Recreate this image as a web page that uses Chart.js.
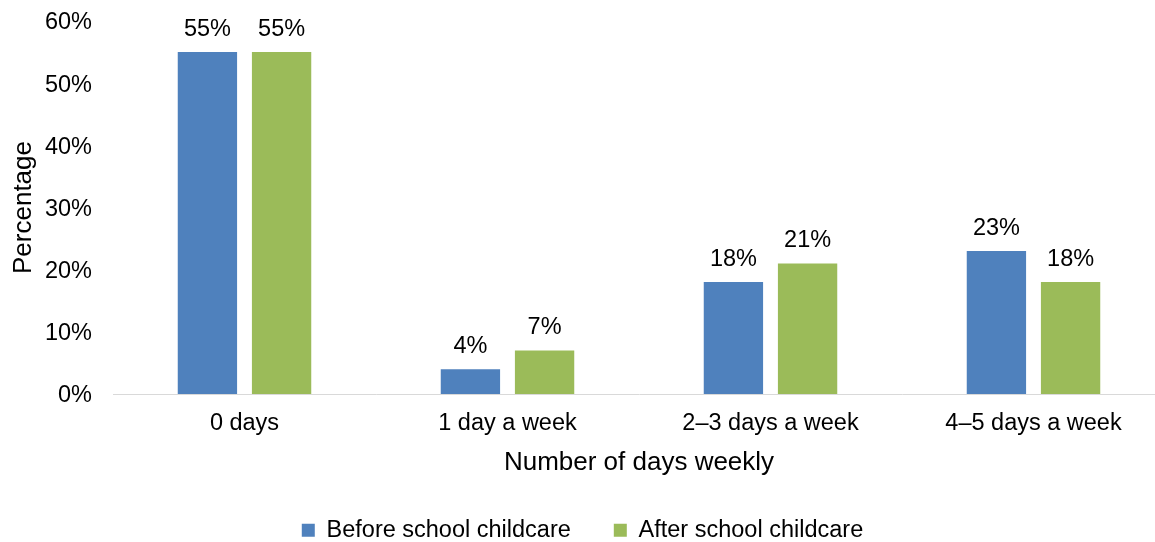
<!DOCTYPE html>
<html>
<head>
<meta charset="utf-8">
<script src="https://cdn.jsdelivr.net/npm/chart.js@4"></script>
<style>
  html, body { margin: 0; padding: 0; background: #fff; overflow: hidden; }
  #wrap { width: 1165px; height: 552px; position: relative; }
</style>
</head>
<body>
<div id="wrap"><canvas id="daysChart"></canvas></div>
<script>
const categories = ['0 days', '1 day a week', '2–3 days a week', '4–5 days a week'];
const beforeSchool = [55, 4, 18, 23];
const afterSchool = [55, 7, 21, 18];
const yTicks = [0, 10, 20, 30, 40, 50, 60];

const FONT = '"Liberation Sans", Arial, sans-serif';

// value labels above each bar
const barLabels = {
    id: 'barLabels',
    afterDatasetsDraw(chart) {
        const ctx = chart.ctx;
        ctx.save();
        ctx.font = '23.5px ' + FONT;
        ctx.fillStyle = '#000';
        ctx.textAlign = 'center';
        ctx.textBaseline = 'alphabetic';
        chart.data.datasets.forEach((ds, i) => {
            chart.getDatasetMeta(i).data.forEach((bar, j) => {
                ctx.fillText(ds.data[j] + '%', bar.x, bar.y - 16);
            });
        });
        ctx.restore();
    }
};

const ctx = document.getElementById('daysChart').getContext('2d');

new Chart(ctx, {
    type: 'bar',
    data: {
        labels: categories,
        datasets: [{
            label: 'Before school childcare',
            data: beforeSchool,
            backgroundColor: '#4f81bd',
            barPercentage: 0.8,
            categoryPercentage: 0.564
        }, {
            label: 'After school childcare',
            data: afterSchool,
            backgroundColor: '#9bbb59',
            barPercentage: 0.8,
            categoryPercentage: 0.564
        }]
    },
    options: {
        responsive: true,
        maintainAspectRatio: false,
        animation: false,
        layout: {
            padding: { top: 0, right: 0, left: 0, bottom: 0 }
        },
        plugins: {
            tooltip: { enabled: false },
            legend: {
                position: 'bottom',
                labels: {
                    color: '#000',
                    font: { family: FONT, size: 23.5 },
                    boxWidth: 13,
                    boxHeight: 13,
                    padding: 43
                }
            }
        },
        scales: {
            x: {
                afterFit(scale) {
                    scale.height = 81.5;
                },
                grid: { display: false, drawTicks: false },
                border: { display: true, color: '#d9d9d9', width: 1 },
                ticks: {
                    color: '#000',
                    font: { family: FONT, size: 23.5 },
                    padding: 15
                },
                title: {
                    display: true,
                    text: 'Number of days weekly',
                    color: '#000',
                    font: { family: FONT, size: 26, lineHeight: 1 },
                    padding: { top: 0, bottom: 0 }
                }
            },
            y: {
                min: 0,
                max: 60,
                afterFit(scale) {
                    scale.width = 113;
                    scale.paddingTop = 21;
                },
                afterBuildTicks(scale) {
                    scale.ticks = yTicks.map(v => ({ value: v }));
                },
                grid: { display: false, drawTicks: false },
                border: { display: false },
                ticks: {
                    color: '#000',
                    font: { family: FONT, size: 23.5 },
                    padding: 21,
                    labelOffset: 2,
                    callback: v => v + '%'
                },
                title: {
                    display: true,
                    text: 'Percentage',
                    color: '#000',
                    font: { family: FONT, size: 26 },
                    padding: { top: 8, bottom: 0 }
                }
            }
        }
    },
    plugins: [barLabels]
});
</script>
</body>
</html>
